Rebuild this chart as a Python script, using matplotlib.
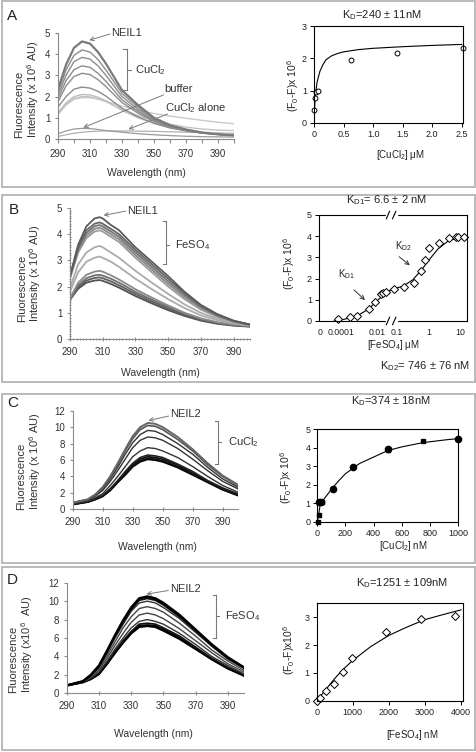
import matplotlib.pyplot as plt
import matplotlib.patches as patches
from matplotlib.ticker import MultipleLocator
import numpy as np

plt.rcParams.update({
    "font.family": ["Liberation Sans", "DejaVu Sans"],
    "mathtext.fontset": "custom",
    "mathtext.rm": "Liberation Sans",
    "mathtext.it": "Liberation Sans:italic",
    "mathtext.bf": "Liberation Sans:bold",
    "mathtext.default": "regular",
})

# ---------------- data ----------------
# A: NEIL1 + CuCl2 emission spectra
wl_a = [290, 295, 300, 305, 310, 315, 320, 330, 340, 350, 360, 370, 380, 390, 400]
a_curves = [
    [2.35, 3.5, 4.3, 4.6, 4.5, 4.1, 3.55, 2.3, 1.6, 1.0, 0.65, 0.45, 0.3, 0.22, 0.17],
    [2.2, 3.25, 3.95, 4.2, 4.1, 3.75, 3.25, 2.15, 1.5, 0.95, 0.63, 0.44, 0.3, 0.22, 0.17],
    [2.05, 3.0, 3.65, 3.85, 3.77, 3.45, 3.0, 2.0, 1.4, 0.9, 0.6, 0.42, 0.3, 0.22, 0.17],
    [1.9, 2.75, 3.27, 3.45, 3.38, 3.1, 2.72, 1.85, 1.3, 0.86, 0.58, 0.41, 0.29, 0.22, 0.17],
    [1.75, 2.5, 2.95, 3.1, 3.04, 2.8, 2.47, 1.72, 1.22, 0.82, 0.56, 0.4, 0.29, 0.22, 0.17],
    [1.5, 2.0, 2.35, 2.45, 2.4, 2.25, 2.02, 1.45, 1.05, 0.74, 0.52, 0.38, 0.28, 0.22, 0.18],
    [1.25, 1.7, 2.0, 2.1, 2.08, 1.97, 1.8, 1.35, 1.0, 0.74, 0.55, 0.42, 0.33, 0.27, 0.22],
    [1.2, 1.65, 1.92, 2.0, 1.99, 1.9, 1.76, 1.4, 1.1, 0.88, 0.7, 0.56, 0.47, 0.42, 0.4],
    [1.15, 1.6, 1.87, 1.95, 1.95, 1.88, 1.78, 1.55, 1.35, 1.2, 1.08, 0.98, 0.88, 0.79, 0.72],
]
a_colors = ["#7a7a7a", "#8c8c8c", "#8c8c8c", "#8c8c8c", "#8c8c8c", "#8c8c8c",
            "#bdbdbd", "#c4c4c4", "#cacaca"]
a_buffer = [0.25, 0.38, 0.47, 0.5, 0.49, 0.45, 0.4, 0.32, 0.25, 0.2, 0.16, 0.13, 0.11, 0.1, 0.09]
a_cucl2_alone = [0.12, 0.2, 0.27, 0.32, 0.35, 0.37, 0.38, 0.38, 0.37, 0.36, 0.34, 0.32, 0.3, 0.28, 0.27]

# A: binding
a_pts_x = [0.005, 0.01, 0.03, 0.06, 0.63, 1.4, 2.52]
a_pts_y = [0.4, 0.78, 0.95, 1.0, 1.95, 2.15, 2.33]
a_fit_x = [0, 0.01, 0.02, 0.05, 0.1, 0.15, 0.2, 0.3, 0.4, 0.5, 0.75, 1.0, 1.5, 2.0, 2.5]
a_fit_y = [0, 0.45, 0.8, 1.25, 1.6, 1.8, 1.95, 2.08, 2.15, 2.2, 2.27, 2.31, 2.36, 2.4, 2.43]

# B: NEIL1 + FeSO4 emission spectra
wl_b = [290, 295, 300, 305, 308, 310, 315, 320, 330, 340, 350, 360, 370, 380, 390, 400]
b_curves = [
    [2.4, 3.6, 4.3, 4.6, 4.65, 4.6, 4.35, 4.15, 3.5, 2.95, 2.4, 1.8, 1.3, 0.95, 0.7, 0.55],
    [2.4, 3.5, 4.15, 4.4, 4.45, 4.4, 4.2, 4.0, 3.4, 2.85, 2.3, 1.75, 1.27, 0.93, 0.69, 0.55],
    [2.4, 3.45, 4.05, 4.3, 4.35, 4.3, 4.1, 3.9, 3.3, 2.75, 2.2, 1.68, 1.23, 0.9, 0.68, 0.55],
    [2.35, 3.4, 3.95, 4.2, 4.25, 4.2, 4.0, 3.8, 3.2, 2.65, 2.1, 1.6, 1.18, 0.88, 0.67, 0.55],
    [2.3, 3.3, 3.85, 4.1, 4.15, 4.1, 3.9, 3.7, 3.1, 2.55, 2.0, 1.52, 1.12, 0.85, 0.65, 0.54],
    [1.95, 2.85, 3.3, 3.5, 3.55, 3.5, 3.3, 3.1, 2.6, 2.15, 1.72, 1.32, 1.0, 0.78, 0.62, 0.53],
    [1.8, 2.55, 2.95, 3.1, 3.15, 3.1, 2.95, 2.75, 2.3, 1.9, 1.52, 1.18, 0.9, 0.72, 0.59, 0.52],
    [1.55, 2.15, 2.45, 2.57, 2.6, 2.57, 2.43, 2.27, 1.9, 1.58, 1.28, 1.0, 0.79, 0.64, 0.55, 0.5],
    [1.5, 2.05, 2.32, 2.43, 2.45, 2.42, 2.3, 2.15, 1.8, 1.5, 1.22, 0.96, 0.76, 0.62, 0.53, 0.49],
    [1.5, 1.98, 2.23, 2.33, 2.35, 2.32, 2.2, 2.05, 1.72, 1.43, 1.16, 0.92, 0.73, 0.6, 0.52, 0.48],
    [1.5, 1.92, 2.15, 2.23, 2.25, 2.22, 2.1, 1.96, 1.64, 1.36, 1.1, 0.88, 0.7, 0.58, 0.51, 0.47],
]
b_colors = ["#5a5a5a", "#666666", "#757575", "#8a8a8a", "#9c9c9c", "#ababab",
            "#ababab", "#8a8a8a", "#6e6e6e", "#5e5e5e", "#505050"]

# B: binding (uM, broken log axis)
b_pts_x = [6.6e-5, 3.2e-4, 7.8e-4, 0.0036, 0.0079, 0.017, 0.022, 0.033, 0.081,
           0.17, 0.35, 0.59, 0.79, 1.0, 2.2, 4.3, 7.2, 8.9, 12.9]
b_pts_y = [0.08, 0.17, 0.25, 0.57, 0.88, 1.26, 1.31, 1.35, 1.5, 1.59, 1.78,
           2.37, 2.89, 3.43, 3.68, 3.93, 3.96, 3.98, 3.96]
b_fit_x = [4e-5, 1e-4, 3.2e-4, 1e-3, 3.2e-3, 0.01, 0.032, 0.07, 0.16, 0.32, 0.63,
           1.0, 2.0, 4.0, 8.0, 14.0]
b_fit_y = [0.0, 0.05, 0.15, 0.3, 0.55, 0.95, 1.35, 1.5, 1.65, 1.95, 2.45, 2.85,
           3.4, 3.75, 3.92, 3.98]

# C: NEIL2 + CuCl2 emission spectra
wl_cd = [290, 300, 305, 310, 315, 320, 325, 330, 335, 340, 345, 350, 360, 370, 380, 390, 400]
c_curves = [
    [0.8, 1.2, 1.8, 2.7, 4.0, 5.6, 7.3, 8.9, 10.0, 10.5, 10.4, 10.0, 8.8, 7.3, 5.6, 4.1, 3.0],
    [0.8, 1.2, 1.75, 2.6, 3.9, 5.4, 7.1, 8.6, 9.7, 10.2, 10.1, 9.7, 8.5, 7.1, 5.4, 4.0, 2.9],
    [0.8, 1.2, 1.7, 2.5, 3.7, 5.1, 6.7, 8.1, 9.1, 9.6, 9.5, 9.1, 8.0, 6.7, 5.1, 3.7, 2.7],
    [0.8, 1.1, 1.6, 2.3, 3.4, 4.7, 6.1, 7.5, 8.4, 8.8, 8.7, 8.4, 7.4, 6.1, 4.7, 3.4, 2.5],
    [0.7, 1.0, 1.4, 1.9, 2.9, 4.0, 5.2, 6.4, 7.1, 7.5, 7.4, 7.1, 6.3, 5.2, 4.0, 2.9, 2.1],
    [0.7, 1.0, 1.3, 1.7, 2.5, 3.5, 4.6, 5.6, 6.3, 6.6, 6.5, 6.3, 5.5, 4.6, 3.5, 2.6, 1.9],
    [0.7, 0.9, 1.25, 1.6, 2.4, 3.4, 4.4, 5.4, 6.1, 6.4, 6.3, 6.1, 5.4, 4.4, 3.4, 2.5, 1.8],
    [0.6, 0.9, 1.2, 1.6, 2.4, 3.3, 4.3, 5.3, 5.9, 6.2, 6.1, 5.9, 5.2, 4.3, 3.3, 2.4, 1.8],
    [0.6, 0.9, 1.2, 1.6, 2.3, 3.3, 4.2, 5.2, 5.8, 6.1, 6.0, 5.8, 5.1, 4.2, 3.3, 2.4, 1.7],
]
c_colors = ["#666666", "#555555", "#333333", "#333333", "#333333", "#222222",
            "#111111", "#111111", "#000000"]
c_widths = [1.4, 1.2, 1.0, 1.0, 1.0, 1.2, 1.3, 1.3, 1.5]

# C: binding (nM)
c_circ_x = [10, 25, 110, 250, 500, 1000]
c_circ_y = [1.05, 1.05, 1.75, 2.95, 3.95, 4.45]
c_sq_x = [8, 15, 30, 500, 750]
c_sq_y = [0.0, 0.35, 1.05, 3.9, 4.35]
c_fit_x = [0, 10, 20, 30, 50, 100, 150, 200, 300, 400, 500, 600, 750, 900, 1000]
c_fit_y = [0, 0.4, 0.9, 1.05, 1.25, 1.75, 2.2, 2.6, 3.15, 3.5, 3.85, 4.05, 4.28, 4.42, 4.5]

# D: NEIL2 + FeSO4 emission spectra
d_curves = [
    [0.85, 1.3, 2.0, 3.0, 4.6, 6.3, 7.9, 9.3, 10.3, 10.5, 10.3, 9.8, 8.5, 6.9, 5.3, 3.9, 2.8],
    [0.85, 1.3, 1.95, 2.9, 4.5, 6.2, 7.7, 9.1, 10.1, 10.3, 10.1, 9.6, 8.3, 6.8, 5.2, 3.8, 2.8],
    [0.85, 1.3, 1.95, 2.9, 4.4, 6.0, 7.5, 8.9, 9.8, 10.0, 9.8, 9.3, 8.1, 6.6, 5.1, 3.7, 2.7],
    [0.85, 1.3, 1.85, 2.7, 4.1, 5.6, 7.1, 8.3, 9.2, 9.4, 9.2, 8.8, 7.6, 6.2, 4.7, 3.5, 2.5],
    [0.85, 1.2, 1.75, 2.5, 3.8, 5.2, 6.5, 7.7, 8.5, 8.7, 8.5, 8.1, 7.0, 5.7, 4.4, 3.2, 2.3],
    [0.85, 1.2, 1.65, 2.3, 3.5, 4.8, 6.0, 7.1, 7.8, 8.0, 7.8, 7.5, 6.5, 5.3, 4.0, 3.0, 2.1],
    [0.85, 1.2, 1.6, 2.2, 3.3, 4.6, 5.7, 6.7, 7.5, 7.6, 7.5, 7.1, 6.2, 5.0, 3.8, 2.8, 2.0],
    [0.85, 1.2, 1.55, 2.1, 3.2, 4.4, 5.6, 6.6, 7.3, 7.4, 7.3, 6.9, 6.0, 4.9, 3.7, 2.7, 2.0],
    [0.85, 1.2, 1.55, 2.1, 3.2, 4.4, 5.5, 6.5, 7.2, 7.3, 7.2, 6.8, 5.9, 4.8, 3.7, 2.7, 1.9],
]
d_colors = ["#000000", "#111111", "#333333", "#444444", "#444444", "#333333",
            "#111111", "#000000", "#000000"]
d_widths = [1.8, 1.4, 1.0, 1.0, 1.0, 1.0, 1.3, 1.5, 1.6]

# D: binding (nM)
d_pts_x = [0, 100, 250, 480, 740, 980, 1930, 2900, 3850]
d_pts_y = [0.0, 0.1, 0.34, 0.61, 1.04, 1.54, 2.46, 2.93, 3.06]
d_fit_x = [0, 100, 250, 500, 750, 1000, 1500, 2000, 2500, 3000, 3500, 4000]
d_fit_y = [0, 0.15, 0.4, 0.8, 1.15, 1.45, 1.95, 2.35, 2.65, 2.92, 3.1, 3.27]

# ---------------- figure ----------------
W, H = 477, 752
fig = plt.figure(figsize=(W / 100, H / 100), dpi=100)
INK = "#333333"
GRAY = "#8a8a8a"


def add_ax(l, t, r, b):
    return fig.add_axes([l / W, 1 - b / H, (r - l) / W, (b - t) / H])


def ftext(x, y, s, **kw):
    fig.text(x / W, 1 - y / H, s, **kw)


def frame(t, b):
    fig.add_artist(patches.Rectangle((1.5 / W, 1 - b / H), (W - 3) / W, (b - t) / H,
                                     transform=fig.transFigure, fill=False,
                                     ec="#b4b4b4", lw=1.3))


def spectra_style(ax, ymax, ystep, tickdir="out"):
    ax.set_xlim(290, 400)
    ax.set_ylim(0, ymax)
    for s in ["top", "right"]:
        ax.spines[s].set_visible(False)
    for s in ["left", "bottom"]:
        ax.spines[s].set_color(GRAY)
        ax.spines[s].set_linewidth(0.8)
    ax.set_xticks(range(290, 400, 20))
    ax.set_yticks(np.arange(0, ymax + 0.01, ystep))
    ax.tick_params(axis="x", direction=tickdir, colors=GRAY, labelcolor=INK,
                   labelsize=7, length=3, width=0.8, pad=4)
    ax.tick_params(axis="y", direction="out", colors=GRAY, labelcolor=INK,
                   labelsize=7, length=2.5, width=0.8, pad=3)


def fit_style(ax):
    for s in ax.spines.values():
        s.set_linewidth(0.8)
        s.set_color("black")
    ax.tick_params(direction="out", length=3, width=0.7, labelsize=6.5, pad=2,
                   colors="black", labelcolor="#222222")


def bracket(ax, x, y1, y2, ym, dx, color="#7a7a7a"):
    kw = dict(color=color, lw=0.8, clip_on=False)
    ax.plot([x, x], [y1, y2], **kw)
    ax.plot([x - dx, x], [y1, y1], **kw)
    ax.plot([x - dx, x], [y2, y2], **kw)
    ax.plot([x, x + dx], [ym, ym], **kw)


def arrow(ax, start, tip, color="#7a7a7a"):
    ax.annotate("", xy=tip, xytext=start,
                arrowprops=dict(arrowstyle="->", color=color, lw=0.7,
                                shrinkA=0, shrinkB=0, mutation_scale=7))


ylab = dict(rotation=90, ha="center", va="bottom", multialignment="left",
            linespacing=1.05, fontsize=8, color=INK)
flab = dict(rotation=90, ha="center", va="center", fontsize=7.5, color="#222222")

frame(1, 187)
frame(195, 382)
frame(394, 563)
frame(567, 750)

# ---------- A left ----------
ax = add_ax(58, 33, 234, 139)
spectra_style(ax, 5, 1)
ax.xaxis.set_minor_locator(MultipleLocator(10))
ax.tick_params(axis="x", which="minor", direction="out", colors=GRAY, length=3, width=0.8)
ax.plot(wl_a, a_cucl2_alone, color="#b0b0b0", lw=0.9)
ax.plot(wl_a, a_buffer, color="#9a9a9a", lw=0.9)
for ys, c in list(zip(a_curves, a_colors))[::-1]:
    ax.plot(wl_a, ys, color=c, lw=1.6 if c == a_colors[0] else 1.0)
ax.text(323.5, 5.0, "NEIL1", fontsize=8, color=INK, va="center")
arrow(ax, (322.5, 4.95), (309.5, 4.66))
bracket(ax, 333, 4.24, 2.29, 3.27, 2.5)
ax.text(338, 3.23, "CuCl$_2$", fontsize=8, color=INK, va="center")
ax.text(356.5, 2.38, "buffer", fontsize=8, color=INK, va="center")
arrow(ax, (356, 2.08), (305.8, 0.54))
ax.text(357, 1.45, "CuCl$_2$ alone", fontsize=8, color=INK, va="center")
arrow(ax, (358.5, 1.18), (334, 0.46))
ftext(27.5, 138, "Fluorescence\nIntensity (x 10$^6$ AU)", **ylab)
ftext(146, 173, "Wavelength (nm)", fontsize=7.5, color=INK, ha="center", va="center")
ftext(6.5, 16, "A", fontsize=11, color="#222222", va="center")

# ---------- A right ----------
ax = add_ax(314, 26, 463, 123)
fit_style(ax)
ax.plot(a_fit_x, a_fit_y, color="black", lw=0.8)
ax.plot(a_pts_x, a_pts_y, "o", mfc="white", mec="black", ms=3.5, mew=0.7, clip_on=False)
ax.set_xlim(0, 2.52)
ax.set_ylim(0, 3)
ax.set_xticks([0, 0.5, 1.0, 1.5, 2.0, 2.5], labels=["0", "0.5", "1.0", "1.5", "2.0", "2.5"])
ax.set_yticks([0, 1, 2, 3])
ftext(382, 15, "K$_D$=240 $\\pm$ 11nM", fontsize=8, color="#222222", ha="center", va="center")
ftext(293, 86, "(F$_0$-F)x 10$^6$", **flab)
ftext(400, 155, "[CuCl$_2$] \u03bcM", fontsize=7, color="#222222", ha="center", va="center")

# ---------- B left ----------
ax = add_ax(70, 208, 250, 339)
spectra_style(ax, 5, 1, tickdir="inout")
ax.xaxis.set_minor_locator(MultipleLocator(2))
ax.yaxis.set_minor_locator(MultipleLocator(0.1))
ax.tick_params(axis="both", which="minor", direction="inout", colors=GRAY, length=2, width=0.6)
for ys, c in list(zip(b_curves, b_colors))[::-1]:
    ax.plot(wl_b, ys, color=c, lw=1.3)
ax.text(325, 4.9, "NEIL1", fontsize=8, color=INK, va="center")
arrow(ax, (324, 4.88), (310.5, 4.72))
bracket(ax, 348.7, 4.49, 2.86, 3.6, 2.0)
ax.text(354, 3.6, "FeSO$_4$", fontsize=8, color=INK, va="center")
ftext(30, 322, "Fluorescence\nIntensity (x 10$^6$ AU)", **ylab)
ftext(160, 373, "Wavelength (nm)", fontsize=7.5, color=INK, ha="center", va="center")
ftext(8.5, 210, "B", fontsize=11, color="#222222", va="center")

# ---------- B right (broken log axis) ----------
LX0, LXB, LXZ, LX1 = -5.24, -1.15, -5.18, 1.22
SA, SB = 17.85, 31.4


def fwd(x):
    x = np.asarray(x, dtype=float)
    lx = np.log10(np.clip(x, 1e-12, None))
    return np.where(lx <= LXB, (lx - LX0) * SA, (LXB - LX0) * SA + (lx - LXB) * SB)


def inv(p):
    p = np.asarray(p, dtype=float)
    pb = (LXB - LX0) * SA
    return 10 ** np.where(p <= pb, p / SA + LX0, LXB + (p - pb) / SB)


ax = add_ax(319, 215, 467, 321)
fit_style(ax)
ax.set_xscale("function", functions=(fwd, inv))
ax.set_xlim(10 ** LX0, 10 ** LX1)
ax.set_ylim(0, 5)
ax.plot(b_fit_x, b_fit_y, color="black", lw=0.8)
ax.plot(b_pts_x, b_pts_y, "D", mfc="white", mec="black", ms=3.6, mew=0.7, clip_on=False)
ax.set_xticks([10 ** LXZ, 1e-4, 1e-2, 0.1, 1, 10],
              labels=["0", "0.0001", "0.01", "0.1", "1", "10"])
ax.xaxis.set_minor_locator(plt.NullLocator())
ax.tick_params(axis="x", length=0, pad=5, labelsize=6.3)
ax.set_yticks([0, 1, 2, 3, 4, 5])
for yy in (0, 1):
    ax.plot([0.462, 0.522], [yy, yy], transform=ax.transAxes, color="white", lw=2.5,
            clip_on=False, zorder=5)
    for x0 in (0.455, 0.497):
        ax.plot([x0, x0 + 0.022], [yy - 0.035, yy + 0.035], transform=ax.transAxes,
                color="black", lw=0.8, clip_on=False, zorder=6)
ftext(386, 200, "K$_{D1}$= 6.6 $\\pm$ 2 nM", fontsize=8, color="#222222", ha="center", va="center")
ftext(425, 366.5, "K$_{D2}$= 746 $\\pm$ 76 nM", fontsize=8, color="#222222", ha="center", va="center")
ftext(289, 263.5, "(F$_0$-F)x 10$^6$", **flab)
ftext(393, 345, "[FeSO$_4$] \u03bcM", fontsize=7, color="#222222", ha="center", va="center")
ftext(347, 274, "K$_{D1}$", fontsize=7, color="#222222", ha="center", va="center")
ftext(403, 246, "K$_{D2}$", fontsize=7, color="#222222", ha="center", va="center")
fig.add_artist(patches.FancyArrowPatch((352 / W, 1 - 288 / H), (367 / W, 1 - 302 / H),
                                       transform=fig.transFigure, arrowstyle="->",
                                       mutation_scale=7, lw=0.7, color="#333333"))
fig.add_artist(patches.FancyArrowPatch((397 / W, 1 - 255 / H), (412 / W, 1 - 267 / H),
                                       transform=fig.transFigure, arrowstyle="->",
                                       mutation_scale=7, lw=0.7, color="#333333"))

# ---------- C left ----------
ax = add_ax(72.7, 410.7, 237.7, 509.3)
spectra_style(ax, 12, 2, tickdir="inout")
for ys, c, w in list(zip(c_curves, c_colors, c_widths))[::-1]:
    ax.plot(wl_cd, ys, color=c, lw=w)
ax.text(355, 11.55, "NEIL2", fontsize=8, color=INK, va="center")
arrow(ax, (354, 11.35), (340.5, 10.8))
bracket(ax, 387, 10.8, 5.5, 8.2, 1.8)
ax.text(393.5, 8.2, "CuCl$_2$", fontsize=8, color=INK, va="center", clip_on=False)
ftext(29.5, 510, "Fluorescence\nIntensity (x 10$^6$ AU)", **ylab)
ftext(157, 547, "Wavelength (nm)", fontsize=7.5, color=INK, ha="center", va="center")
ftext(7, 403, "C", fontsize=11, color="#222222", va="center")

# ---------- C right ----------
ax = add_ax(317.3, 429.3, 458.3, 521.7)
fit_style(ax)
ax.plot(c_fit_x, c_fit_y, color="black", lw=0.8)
ax.plot(c_circ_x, c_circ_y, "o", color="black", ms=4.5, clip_on=False)
ax.plot(c_sq_x, c_sq_y, "s", color="black", ms=3.5, clip_on=False)
ax.set_xlim(0, 1000)
ax.set_ylim(0, 5)
ax.set_xticks(range(0, 1001, 200))
ax.set_yticks(range(6))
ftext(391, 401.5, "K$_D$=374 $\\pm$ 18nM", fontsize=8, color="#222222", ha="center", va="center")
ftext(286, 478, "(F$_0$-F)x 10$^6$", **flab)
ftext(403, 546, "[CuCl$_2$] nM", fontsize=7, color="#222222", ha="center", va="center")

# ---------- D left ----------
ax = add_ax(66.7, 582.7, 244, 693.3)
spectra_style(ax, 12, 2, tickdir="inout")
for ys, c, w in list(zip(d_curves, d_colors, d_widths))[::-1]:
    ax.plot(wl_cd, ys, color=c, lw=w)
ax.text(354, 11.3, "NEIL2", fontsize=8, color=INK, va="center")
arrow(ax, (353, 11.15), (339.5, 10.76))
bracket(ax, 382.6, 10.7, 6.05, 8.4, 1.8)
ax.text(388, 8.4, "FeSO$_4$", fontsize=8, color=INK, va="center", clip_on=False)
ftext(21.5, 693, "Fluorescence\nIntensity (x10$^6$  AU)", **ylab)
ftext(153, 734, "Wavelength (nm)", fontsize=7.5, color=INK, ha="center", va="center")
ftext(7, 580, "D", fontsize=11, color="#222222", va="center")

# ---------- D right ----------
ax = add_ax(316.7, 602.7, 462.7, 700.7)
fit_style(ax)
ax.plot(d_fit_x, d_fit_y, color="black", lw=0.8)
ax.plot(d_pts_x, d_pts_y, "D", mfc="white", mec="black", ms=4.2, mew=0.7, clip_on=False)
ax.set_xlim(0, 4050)
ax.set_ylim(0, 3.53)
ax.set_xticks(range(0, 4001, 1000))
ax.set_yticks([0, 1, 2, 3])
ftext(402, 583, "K$_D$=1251 $\\pm$ 109nM", fontsize=8, color="#222222", ha="center", va="center")
ftext(289, 650, "(F$_0$-F)x10$^6$", **flab)
ftext(412, 735, "[FeSO$_4$] nM", fontsize=7, color="#222222", ha="center", va="center")

fig.savefig("out.png", dpi=100)
